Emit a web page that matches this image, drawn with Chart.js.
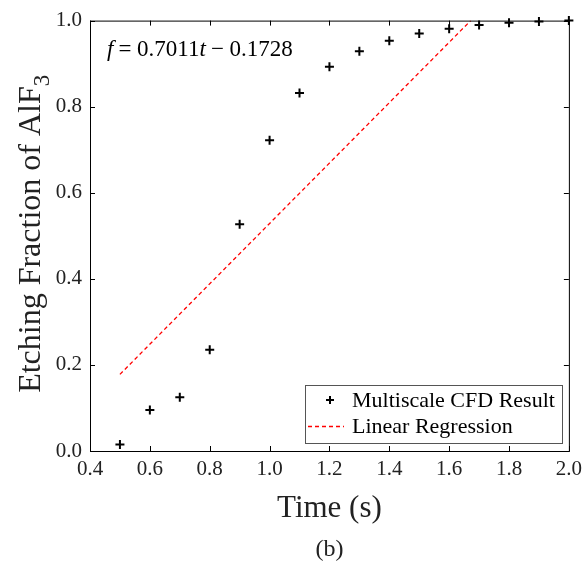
<!DOCTYPE html>
<html>
<head>
<meta charset="utf-8">
<script src="https://cdn.jsdelivr.net/npm/chart.js@4/dist/chart.umd.min.js"></script>
<style>
  html, body { margin: 0; padding: 0; background: #fff; }
  #wrap { width: 588px; height: 562px; }
</style>
</head>
<body>
<div id="wrap"><canvas id="chart" width="588" height="562"></canvas></div>
<script>
// dados
const tempos = [0.5, 0.6, 0.7, 0.8, 0.9, 1.0, 1.1, 1.2, 1.3, 1.4, 1.5, 1.6, 1.7, 1.8, 1.9, 2.0];
const fracoes = [0.015, 0.095, 0.125, 0.235, 0.527, 0.722, 0.832, 0.893, 0.929, 0.953, 0.970, 0.981, 0.990, 0.995, 0.998, 1.0];
// extremos da reta de regressão
const regTempos = [0.5, 1.672];
const regValores = [0.178, 1.0];
const xTicks = [0.4, 0.6, 0.8, 1.0, 1.2, 1.4, 1.6, 1.8, 2.0];
const yTicks = [0.0, 0.2, 0.4, 0.6, 0.8, 1.0];

const FONTE = '"Liberation Serif", "DejaVu Serif", serif';
const VERMELHO = 'rgb(255, 0, 0)';

const pontos = tempos.map((t, i) => ({ x: t, y: fracoes[i] }));
const reta = regTempos.map((t, i) => ({ x: t, y: regValores[i] }));

// plugin para moldura, ticks internos, títulos e legenda
const moldura = {
  id: 'moldura',
  afterDraw(chart) {
    const ctx = chart.ctx;
    const a = chart.chartArea;
    const sx = chart.scales.x, sy = chart.scales.y;
    ctx.save();
    ctx.strokeStyle = '#000';
    ctx.lineWidth = 1;
    ctx.strokeRect(a.left + 0.5, a.top + 0.5, a.right - a.left, a.bottom - a.top);
    ctx.beginPath();
    xTicks.forEach(v => {
      const px = Math.round(sx.getPixelForValue(v)) + 0.5;
      ctx.moveTo(px, a.bottom); ctx.lineTo(px, a.bottom - 5);
      ctx.moveTo(px, a.top); ctx.lineTo(px, a.top + 5);
    });
    yTicks.forEach(v => {
      const py = Math.round(sy.getPixelForValue(v)) + 0.5;
      ctx.moveTo(a.left, py); ctx.lineTo(a.left + 5, py);
      ctx.moveTo(a.right, py); ctx.lineTo(a.right - 5, py);
    });
    ctx.stroke();

    // equação
    ctx.fillStyle = '#000';
    ctx.textBaseline = 'alphabetic';
    ctx.textAlign = 'left';
    let x = 107, y = 56;
    ctx.font = 'italic 23px ' + FONTE;
    ctx.fillText('f', x, y); x += ctx.measureText('f').width + 5;
    ctx.font = '23px ' + FONTE;
    ctx.fillText('= 0.7011', x, y); x += ctx.measureText('= 0.7011').width;
    ctx.font = 'italic 23px ' + FONTE;
    ctx.fillText('t', x, y); x += ctx.measureText('t').width + 5;
    ctx.font = '23px ' + FONTE;
    ctx.fillText('\u2212 0.1728', x, y);

    // título do eixo x
    ctx.textAlign = 'center';
    ctx.font = '31px ' + FONTE;
    ctx.fillStyle = '#222';
    ctx.fillText('Time (s)', (a.left + a.right) / 2, 517);
    ctx.font = '24px ' + FONTE;
    ctx.fillText('(b)', (a.left + a.right) / 2, 556);

    // título do eixo y com subscrito
    ctx.save();
    ctx.translate(40, (a.top + a.bottom) / 2 - 2);
    ctx.rotate(-Math.PI / 2);
    ctx.font = '32px ' + FONTE;
    const principal = 'Etching Fraction of AlF';
    const w1 = ctx.measureText(principal).width;
    ctx.font = '23px ' + FONTE;
    const w2 = ctx.measureText('3').width;
    const x0 = -(w1 + w2) / 2;
    ctx.font = '32px ' + FONTE;
    ctx.textAlign = 'left';
    ctx.fillText(principal, x0, 0);
    ctx.font = '23px ' + FONTE;
    ctx.fillText('3', x0 + w1, 9);
    ctx.restore();

    // legenda
    const lx = 305, ly = 385, lw = 257, lh = 58;
    ctx.fillStyle = '#fff';
    ctx.fillRect(lx, ly, lw, lh);
    ctx.strokeStyle = '#555';
    ctx.lineWidth = 1;
    ctx.strokeRect(lx + 0.5, ly + 0.5, lw, lh);
    ctx.strokeStyle = '#000';
    ctx.lineWidth = 2;
    ctx.beginPath();
    ctx.moveTo(326, 400); ctx.lineTo(334, 400);
    ctx.moveTo(330, 396); ctx.lineTo(330, 404);
    ctx.stroke();
    ctx.strokeStyle = VERMELHO;
    ctx.lineWidth = 1.3;
    ctx.setLineDash([4, 3]);
    ctx.beginPath();
    ctx.moveTo(308, 426.5); ctx.lineTo(344, 426.5);
    ctx.stroke();
    ctx.setLineDash([]);
    ctx.fillStyle = '#000';
    ctx.font = '22px ' + FONTE;
    ctx.textAlign = 'left';
    ctx.textBaseline = 'middle';
    ctx.fillText('Multiscale CFD Result', 352, 401);
    ctx.fillText('Linear Regression', 352, 427);
    ctx.restore();
  }
};

const ctx = document.getElementById('chart').getContext('2d');
new Chart(ctx, {
  type: 'scatter',
  data: {
    datasets: [
      {
        label: 'Linear Regression',
        data: reta,
        showLine: true,
        borderColor: VERMELHO,
        borderWidth: 1.3,
        borderDash: [4, 3],
        pointRadius: 0,
        fill: false
      },
      {
        label: 'Multiscale CFD Result',
        data: pontos,
        pointStyle: 'cross',
        pointRadius: 4.5,
        borderColor: '#000',
        backgroundColor: '#000',
        borderWidth: 2,
        clip: false
      }
    ]
  },
  options: {
    responsive: false,
    animation: false,
    layout: { padding: { top: 17, right: 15, left: 0, bottom: 0 } },
    plugins: {
      legend: { display: false },
      tooltip: { enabled: false }
    },
    scales: {
      x: {
        type: 'linear',
        min: 0.4,
        max: 2.0,
        afterBuildTicks: s => { s.ticks = xTicks.map(v => ({ value: v })); },
        afterFit: s => { s.height = 111; },
        grid: { display: false, drawTicks: false },
        border: { display: false },
        ticks: {
          color: '#222',
          padding: 6,
          font: { family: FONTE, size: 21 },
          callback: v => v.toFixed(1)
        }
      },
      y: {
        type: 'linear',
        min: 0,
        max: 1.0,
        afterBuildTicks: s => { s.ticks = yTicks.map(v => ({ value: v })); },
        afterFit: s => { s.width = 90; },
        grid: { display: false, drawTicks: false },
        border: { display: false },
        ticks: {
          color: '#222',
          padding: 8,
          font: { family: FONTE, size: 21 },
          callback: v => v.toFixed(1)
        }
      }
    }
  },
  plugins: [moldura]
});
</script>
</body>
</html>
